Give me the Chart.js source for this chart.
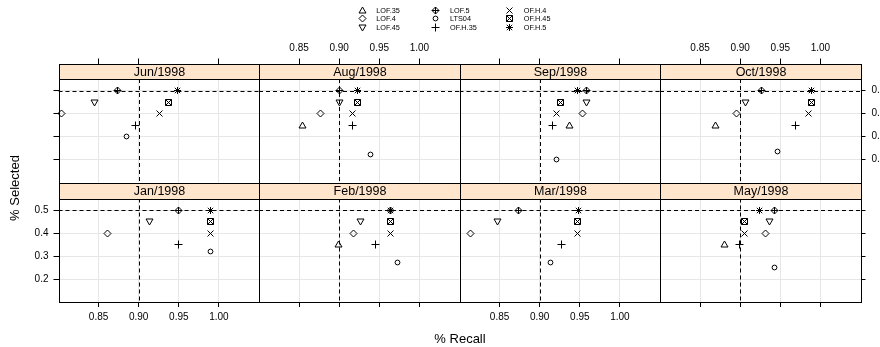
<!DOCTYPE html>
<html>
<head>
<meta charset="utf-8">
<script src="https://cdn.jsdelivr.net/npm/chart.js@4.4.0/dist/chart.umd.min.js"></script>
<style>
  html, body { margin: 0; padding: 0; background: #fff; }
  #wrap { position: relative; width: 880px; height: 347px; overflow: hidden; }
  #wrap canvas { position: absolute; left: 0; top: 0; }
</style>
</head>
<body>
<div id="wrap"></div>
<script>
// panels: bottom row first (Jan..May), then top row (Jun..Oct)
const months = ['Jan/1998', 'Feb/1998', 'Mar/1998', 'May/1998', 'Jun/1998', 'Aug/1998', 'Sep/1998', 'Oct/1998'];
const methods = ['LOF.35', 'LOF.4', 'LOF.45', 'LOF.5', 'LTS04', 'OF.H.35', 'OF.H.4', 'OF.H.45', 'OF.H.5'];

// % Recall per month (same order as months)
const recallLOF35  = [null, 0.899, null, 0.880, null, 0.854, 0.937, 0.869];
const recallLOF4   = [0.861, 0.918, 0.814, 0.931, 0.804, 0.877, 0.953, 0.895];
const recallLOF45  = [0.913, 0.927, 0.847, 0.937, 0.845, 0.900, 0.958, 0.907];
const recallLOF5   = [0.950, 0.964, 0.874, 0.943, 0.873, 0.900, 0.958, 0.927];
const recallLTS04  = [0.989, 0.973, 0.914, 0.943, 0.885, 0.939, 0.921, 0.946];
const recallOFH35  = [0.950, 0.945, 0.927, 0.899, 0.896, 0.916, 0.916, 0.969];
const recallOFH4   = [0.989, 0.964, 0.947, 0.905, 0.926, 0.916, 0.921, 0.985];
const recallOFH45  = [0.989, 0.964, 0.947, 0.905, 0.937, 0.923, 0.926, 0.989];
const recallOFH5   = [0.989, 0.964, 0.948, 0.924, 0.949, 0.923, 0.947, 0.989];

// % Selected per month
const selLOF35  = [0.35, 0.35, 0.35, 0.35, 0.35, 0.35, 0.35, 0.35];
const selLOF4   = [0.40, 0.40, 0.40, 0.40, 0.40, 0.40, 0.40, 0.40];
const selLOF45  = [0.45, 0.45, 0.45, 0.45, 0.45, 0.45, 0.45, 0.45];
const selLOF5   = [0.50, 0.50, 0.50, 0.50, 0.50, 0.50, 0.50, 0.50];
const selLTS04  = [0.32, 0.27, 0.27, 0.25, 0.30, 0.22, 0.20, 0.235];
const selOFH35  = [0.35, 0.35, 0.35, 0.35, 0.35, 0.35, 0.35, 0.35];
const selOFH4   = [0.40, 0.40, 0.40, 0.40, 0.40, 0.40, 0.40, 0.40];
const selOFH45  = [0.45, 0.45, 0.45, 0.45, 0.45, 0.45, 0.45, 0.45];
const selOFH5   = [0.50, 0.50, 0.50, 0.50, 0.50, 0.50, 0.50, 0.50];

const recall = [recallLOF35, recallLOF4, recallLOF45, recallLOF5, recallLTS04, recallOFH35, recallOFH4, recallOFH45, recallOFH5];
const selected = [selLOF35, selLOF4, selLOF45, selLOF5, selLTS04, selOFH35, selOFH4, selOFH45, selOFH5];

const recallTicks = [0.85, 0.90, 0.95, 1.00];
const selectedTicks = [0.2, 0.3, 0.4, 0.5];
const recallRange = [0.80, 1.05];
const selectedRange = [0.10, 0.55];
const refRecall = 0.90;
const refSelected = 0.50;

// lattice style symbols (pch 2,5,6,9,1,3,4,7,8)
const symbolKinds = ['triUp', 'diamond', 'triDown', 'diamondPlus', 'circle', 'plus', 'x', 'boxX', 'star'];

// layout
const CANVAS_W = 920, CANVAS_H = 347;
const PANEL_X0 = 58.5, PANEL_W = 200.5, PANEL_H = 103.5;
const ROW_TOP = [79, 198.5];
const STRIP_H = 15.5;
const X_AXIS_H = 30, Y_AXIS_W = 40;
const FONT = '"Liberation Sans", Arial, Helvetica, sans-serif';

Chart.defaults.font.family = FONT;

// draws one symbol centred on a pixel, crisp 1px lines
function drawSymbol(g, kind, x, y) {
    const c = Math.floor(x) + 0.5, d = Math.floor(y) + 0.5;
    g.save();
    g.strokeStyle = '#000';
    g.lineWidth = 1;
    g.beginPath();
    if (kind === 'triUp') {
        g.moveTo(c, d - 3.5); g.lineTo(c + 3.5, d + 2.5); g.lineTo(c - 3.5, d + 2.5); g.closePath();
    } else if (kind === 'triDown') {
        g.moveTo(c, d + 3.5); g.lineTo(c + 3.5, d - 2.5); g.lineTo(c - 3.5, d - 2.5); g.closePath();
    } else if (kind === 'diamond' || kind === 'diamondPlus') {
        g.moveTo(c, d - 3.5); g.lineTo(c + 3.5, d); g.lineTo(c, d + 3.5); g.lineTo(c - 3.5, d); g.closePath();
        if (kind === 'diamondPlus') {
            g.moveTo(c, d - 3.5); g.lineTo(c, d + 3.5);
            g.moveTo(c - 3.5, d); g.lineTo(c + 3.5, d);
        }
    } else if (kind === 'circle') {
        g.arc(c, d, 2.4, 0, Math.PI * 2);
    } else if (kind === 'plus') {
        g.moveTo(c - 4, d); g.lineTo(c + 4, d);
        g.moveTo(c, d - 4); g.lineTo(c, d + 4);
    } else if (kind === 'x') {
        g.moveTo(c - 3, d - 3); g.lineTo(c + 3, d + 3);
        g.moveTo(c + 3, d - 3); g.lineTo(c - 3, d + 3);
    } else if (kind === 'boxX') {
        g.rect(c - 3, d - 3, 6, 6);
        g.moveTo(c - 3, d - 3); g.lineTo(c + 3, d + 3);
        g.moveTo(c + 3, d - 3); g.lineTo(c - 3, d + 3);
    } else if (kind === 'star') {
        g.moveTo(c - 3.5, d); g.lineTo(c + 3.5, d);
        g.moveTo(c, d - 3.5); g.lineTo(c, d + 3.5);
        g.moveTo(c - 2.7, d - 2.7); g.lineTo(c + 2.7, d + 2.7);
        g.moveTo(c + 2.7, d - 2.7); g.lineTo(c - 2.7, d + 2.7);
    }
    g.stroke();
    g.restore();
}

// strip, panel border, dashed reference lines and the symbols
const panelDecor = {
    id: 'panelDecor',
    beforeDatasetsDraw(chart, args, opts) {
        const { ctx, chartArea: a, scales: { x, y } } = chart;
        const px = Math.round(x.getPixelForValue(refRecall)) + 0.5;
        const py = Math.round(y.getPixelForValue(refSelected)) + 0.5;
        ctx.save();
        ctx.beginPath();
        ctx.rect(a.left, a.top, a.width, a.height);
        ctx.clip();
        ctx.strokeStyle = '#000';
        ctx.lineWidth = 1;
        ctx.setLineDash([4, 3]);
        ctx.beginPath();
        ctx.moveTo(px, a.top); ctx.lineTo(px, a.bottom);
        ctx.moveTo(a.left, py); ctx.lineTo(a.right, py);
        ctx.stroke();
        ctx.restore();
    },
    afterDatasetsDraw(chart) {
        const ctx = chart.ctx;
        chart.data.datasets.forEach((ds, i) => {
            chart.getDatasetMeta(i).data.forEach(pt => drawSymbol(ctx, ds.symbol, pt.x, pt.y));
        });
    },
    afterDraw(chart, args, opts) {
        const { ctx, chartArea: a } = chart;
        const l = Math.round(a.left) + 0.5, r = Math.round(a.right) + 0.5;
        const t = Math.round(a.top) + 0.5, b = Math.round(a.bottom) + 0.5;
        const st = Math.round(a.top - STRIP_H) + 0.5;
        ctx.save();
        ctx.fillStyle = '#ffe5cc';
        ctx.fillRect(l, st, r - l, t - st);
        ctx.strokeStyle = '#000';
        ctx.lineWidth = 1;
        ctx.strokeRect(l, st, r - l, t - st);
        ctx.strokeRect(l, t, r - l, b - t);
        ctx.fillStyle = '#000';
        ctx.font = '12.5px ' + FONT;
        ctx.textAlign = 'center';
        ctx.textBaseline = 'middle';
        ctx.fillText(opts.title, (l + r) / 2, (st + t) / 2 + 0.5);
        ctx.restore();
    }
};

// legend on top and the outer axis titles (drawn once)
const overlay = {
    id: 'overlay',
    afterDraw(chart) {
        const ctx = chart.ctx;
        ctx.save();
        ctx.fillStyle = '#000';
        ctx.font = '13px ' + FONT;
        ctx.textAlign = 'center';
        ctx.textBaseline = 'middle';
        ctx.fillText('% Recall', 460, 339);
        ctx.translate(15, 188);
        ctx.rotate(-Math.PI / 2);
        ctx.fillText('% Selected', 0, 0);
        ctx.restore();

        ctx.save();
        ctx.fillStyle = '#000';
        ctx.font = '7.3px ' + FONT;
        ctx.textAlign = 'left';
        ctx.textBaseline = 'middle';
        chart.data.datasets.forEach((ds, i) => {
            const cx = 362 + Math.floor(i / 3) * 73.7;
            const cy = 10 + (i % 3) * 8.7;
            drawSymbol(ctx, ds.symbol, cx, cy);
            ctx.fillText(ds.label, cx + 14.3, cy + 0.5);
        });
        ctx.restore();
    }
};

const wrap = document.getElementById('wrap');

months.forEach((month, k) => {
    const row = k < 4 ? 1 : 0;      // 0 = top row
    const col = k % 4;
    const left = PANEL_X0 + col * PANEL_W;
    const top = ROW_TOP[row];
    const yOuter = col === 0 || col === 3;
    const showXLabels = (row === 1 && (col === 0 || col === 2)) || (row === 0 && (col === 1 || col === 3));
    const showYLabels = (row === 1 && col === 0) || (row === 0 && col === 3);
    const hideMidTick = row === 0 && (col === 0 || col === 2);

    const canvas = document.createElement('canvas');
    canvas.width = CANVAS_W;
    canvas.height = CANVAS_H;
    canvas.style.width = CANVAS_W + 'px';
    canvas.style.height = CANVAS_H + 'px';
    wrap.appendChild(canvas);

    const datasets = methods.map((name, i) => {
        const r = recall[i][k];
        return {
            label: name,
            symbol: symbolKinds[i],
            data: r == null ? [] : [{ x: r, y: selected[i][k] }],
            pointRadius: 0,
            pointHoverRadius: 0
        };
    });

    new Chart(canvas.getContext('2d'), {
        type: 'scatter',
        data: { datasets: datasets },
        plugins: k === 0 ? [panelDecor, overlay] : [panelDecor],
        options: {
            responsive: false,
            animation: false,
            devicePixelRatio: 1,
            events: [],
            layout: {
                padding: {
                    left: left - (col === 0 ? Y_AXIS_W : 0),
                    right: CANVAS_W - (left + PANEL_W) - (col === 3 ? Y_AXIS_W : 0),
                    top: top - STRIP_H - (row === 0 ? X_AXIS_H : 0),
                    bottom: CANVAS_H - (top + PANEL_H) - (row === 1 ? X_AXIS_H : 0)
                }
            },
            plugins: {
                legend: { display: false },
                title: { display: false },
                tooltip: { enabled: false },
                panelDecor: { title: month }
            },
            scales: {
                x: {
                    type: 'linear',
                    position: row === 0 ? 'top' : 'bottom',
                    weight: 2,
                    min: recallRange[0],
                    max: recallRange[1],
                    afterBuildTicks: s => { s.ticks = recallTicks.map(v => ({ value: v })); },
                    afterFit: s => { s.height = X_AXIS_H; },
                    border: { display: false },
                    grid: {
                        color: '#e6e6e6',
                        drawTicks: true,
                        tickLength: 5,
                        tickColor: c => (hideMidTick && c.tick && Math.abs(c.tick.value - 0.95) < 1e-6) ? 'rgba(0,0,0,0)' : '#000'
                    },
                    ticks: {
                        display: showXLabels,
                        color: '#000',
                        font: { size: 10 },
                        padding: 4,
                        maxRotation: 0,
                        autoSkip: false,
                        callback: v => v.toFixed(2)
                    }
                },
                strip: {
                    type: 'linear',
                    axis: 'x',
                    position: 'top',
                    weight: 1,
                    afterFit: s => { s.height = STRIP_H; },
                    border: { display: false },
                    grid: { display: false },
                    ticks: { display: false }
                },
                y: {
                    type: 'linear',
                    position: col === 3 ? 'right' : 'left',
                    min: selectedRange[0],
                    max: selectedRange[1],
                    afterBuildTicks: s => { s.ticks = selectedTicks.map(v => ({ value: v })); },
                    afterFit: s => { s.width = yOuter ? Y_AXIS_W : 0; },
                    border: { display: false },
                    grid: {
                        color: '#e6e6e6',
                        drawTicks: yOuter,
                        tickLength: 5,
                        tickColor: '#000'
                    },
                    ticks: {
                        display: showYLabels,
                        color: '#000',
                        font: { size: 10 },
                        padding: col === 3 ? 6 : 5,
                        callback: v => v.toFixed(1)
                    }
                }
            }
        }
    });
});
</script>
</body>
</html>
